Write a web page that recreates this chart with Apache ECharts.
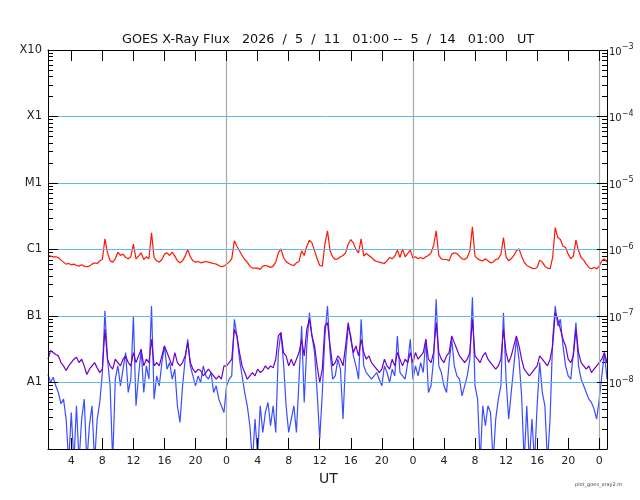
<!DOCTYPE html>
<html>
<head>
<meta charset="utf-8">
<title>GOES X-Ray Flux</title>
<script src="https://cdn.jsdelivr.net/npm/echarts@6/dist/echarts.min.js"></script>
<style>
  html, body { margin: 0; padding: 0; background: #fff; }
  #chart { width: 640px; height: 500px; }
</style>
</head>
<body>
<div id="chart"></div>
<script>
// log10 of flux (W/m^2), one sample every 20 min starting 5/11 01:00 UT
const START_HOUR = 1;      // hours after 5/11 00:00 UT
const STEP_HOURS = 1 / 3;

// red: long channel
const longFlux = [
  -6.09,-6.10,-6.11,-6.11,-6.12,-6.16,-6.19,-6.22,-6.21,-6.23,-6.22,-6.24,
  -6.25,-6.23,-6.25,-6.26,-6.25,-6.22,-6.20,-6.21,-6.17,-6.15,-5.84,-6.05,
  -6.17,-6.19,-6.14,-6.04,-6.09,-6.07,-6.12,-6.14,-6.11,-5.92,-6.14,-6.10,
  -6.05,-6.15,-6.11,-6.14,-5.75,-6.12,-6.17,-6.19,-6.15,-6.07,-6.05,-6.09,
  -6.04,-6.10,-6.17,-6.20,-6.17,-6.10,-6.00,-6.11,-6.17,-6.19,-6.18,-6.20,
  -6.19,-6.18,-6.19,-6.20,-6.21,-6.22,-6.24,-6.26,-6.25,-6.22,-6.19,-6.14,
  -5.87,-5.95,-6.02,-6.09,-6.15,-6.19,-6.25,-6.28,-6.28,-6.28,-6.30,-6.25,
  -6.24,-6.25,-6.27,-6.25,-6.19,-6.05,-5.99,-6.12,-6.18,-6.21,-6.23,-6.24,
  -6.20,-6.18,-6.02,-6.09,-5.95,-5.86,-5.90,-6.02,-6.14,-6.24,-6.25,-5.92,
  -5.72,-6.02,-6.11,-6.15,-6.14,-6.11,-6.09,-6.05,-5.92,-5.85,-5.90,-6.00,
  -6.05,-5.84,-6.10,-6.06,-6.09,-6.12,-6.16,-6.18,-6.19,-6.20,-6.21,-6.17,
  -6.12,-6.14,-6.10,-6.01,-6.12,-5.99,-6.11,-6.06,-6.01,-6.13,-6.11,-6.14,
  -6.12,-6.14,-6.11,-6.09,-6.05,-5.94,-5.72,-6.09,-6.14,-6.15,-6.15,-6.17,
  -6.07,-6.05,-6.06,-6.10,-6.14,-6.15,-6.12,-6.02,-5.66,-6.10,-6.14,-6.16,
  -6.17,-6.14,-6.17,-6.20,-6.19,-6.15,-6.14,-6.07,-5.82,-6.11,-6.17,-6.14,
  -6.09,-6.02,-5.99,-6.10,-6.19,-6.24,-6.26,-6.28,-6.29,-6.27,-6.16,-6.19,
  -6.25,-6.28,-6.29,-6.12,-5.67,-5.82,-5.85,-5.95,-5.97,-6.07,-6.14,-6.10,
  -5.86,-6.02,-6.12,-6.16,-6.22,-6.27,-6.29,-6.27,-6.29,-6.25,-6.17,-6.14,
  -6.19
];

// blue: short channel
const shortFlux = [
  -7.88,-8.00,-7.92,-8.05,-8.15,-8.32,-8.25,-8.55,-9.20,-8.45,-9.20,-8.35,
  -9.20,-8.55,-8.25,-9.20,-8.65,-8.35,-9.20,-8.55,-8.30,-7.85,-6.92,-7.65,
  -8.05,-9.20,-7.95,-7.75,-8.05,-7.80,-7.55,-8.15,-7.95,-7.00,-8.35,-7.90,
  -7.50,-8.15,-7.75,-7.95,-6.85,-8.25,-7.90,-8.05,-7.70,-7.45,-7.80,-7.70,
  -7.95,-7.80,-8.35,-8.60,-8.05,-7.65,-7.35,-7.75,-7.90,-8.05,-7.90,-8.00,
  -7.75,-7.90,-7.95,-7.85,-8.15,-8.05,-8.25,-8.35,-8.45,-8.05,-7.95,-7.90,
  -7.05,-7.30,-7.65,-7.90,-8.15,-8.35,-8.65,-9.20,-8.55,-9.10,-8.35,-8.75,
  -8.45,-8.30,-8.65,-8.35,-8.75,-7.55,-7.25,-7.70,-8.35,-8.75,-8.55,-8.35,
  -8.75,-7.95,-7.15,-8.30,-7.45,-6.95,-7.30,-7.55,-8.15,-8.85,-8.15,-7.30,
  -6.85,-7.55,-7.95,-7.90,-7.65,-7.80,-8.55,-7.65,-7.15,-7.30,-7.60,-7.75,
  -7.95,-7.05,-7.75,-7.85,-7.90,-7.95,-7.90,-7.85,-7.95,-8.05,-7.75,-7.85,
  -8.00,-7.80,-7.90,-7.30,-7.85,-7.90,-7.95,-7.70,-7.35,-7.95,-7.75,-7.90,
  -7.70,-7.85,-7.35,-8.15,-8.05,-7.65,-6.75,-7.75,-7.85,-8.05,-8.15,-7.70,
  -7.35,-7.75,-7.90,-7.95,-8.20,-8.05,-7.90,-7.65,-6.72,-8.05,-8.25,-9.20,
  -8.35,-8.65,-8.35,-8.45,-9.20,-8.55,-8.25,-8.05,-6.95,-7.95,-8.55,-8.15,
  -7.75,-7.35,-7.65,-8.20,-9.20,-8.35,-9.20,-8.55,-9.20,-8.35,-7.70,-8.15,
  -8.35,-9.20,-8.55,-7.35,-6.85,-7.15,-7.05,-7.45,-7.75,-7.90,-7.95,-7.55,
  -7.10,-7.75,-7.95,-8.05,-8.15,-8.25,-8.30,-8.40,-8.55,-8.25,-7.90,-7.55,
  -7.95
];

// purple: short channel, second satellite
const shortFlux2 = [
  -7.65,-7.52,-7.55,-7.58,-7.60,-7.70,-7.75,-7.82,-7.75,-7.70,-7.65,-7.62,
  -7.70,-7.65,-7.75,-7.88,-7.80,-7.75,-7.70,-7.78,-7.85,-7.80,-7.20,-7.65,
  -7.75,-7.80,-7.65,-7.70,-7.75,-7.65,-7.60,-7.70,-7.75,-7.55,-7.70,-7.60,
  -7.50,-7.75,-7.65,-7.70,-7.35,-7.75,-7.70,-7.75,-7.60,-7.45,-7.55,-7.65,
  -7.75,-7.55,-7.70,-7.75,-7.70,-7.60,-7.40,-7.70,-7.80,-7.85,-7.80,-7.82,
  -7.90,-7.85,-7.80,-7.85,-7.90,-7.95,-7.90,-7.95,-7.75,-7.75,-7.70,-7.65,
  -7.20,-7.30,-7.55,-7.75,-7.85,-7.95,-7.90,-7.85,-7.90,-7.80,-7.85,-7.82,
  -7.75,-7.80,-7.75,-7.78,-7.65,-7.30,-7.25,-7.55,-7.60,-7.75,-7.65,-7.75,
  -7.65,-7.55,-7.35,-7.60,-7.20,-7.05,-7.30,-7.45,-7.75,-8.00,-7.80,-7.15,
  -7.10,-7.45,-7.75,-7.70,-7.60,-7.65,-7.75,-7.45,-7.10,-7.35,-7.55,-7.45,
  -7.60,-7.35,-7.55,-7.65,-7.60,-7.70,-7.75,-7.80,-7.85,-7.80,-7.65,-7.75,
  -7.80,-7.65,-7.75,-7.55,-7.65,-7.75,-7.65,-7.70,-7.55,-7.70,-7.55,-7.65,
  -7.60,-7.55,-7.35,-7.65,-7.70,-7.55,-7.10,-7.55,-7.65,-7.70,-7.60,-7.55,
  -7.30,-7.40,-7.50,-7.60,-7.65,-7.70,-7.65,-7.55,-7.05,-7.60,-7.65,-7.70,
  -7.60,-7.55,-7.65,-7.70,-7.75,-7.80,-7.75,-7.65,-7.20,-7.55,-7.70,-7.60,
  -7.45,-7.30,-7.45,-7.65,-7.80,-7.85,-7.90,-7.85,-7.80,-7.75,-7.60,-7.65,
  -7.70,-7.75,-7.65,-7.45,-6.95,-7.05,-7.20,-7.35,-7.45,-7.65,-7.70,-7.60,
  -7.20,-7.55,-7.70,-7.75,-7.80,-7.75,-7.85,-7.80,-7.75,-7.70,-7.65,-7.55,
  -7.70
];

const classLabels = { '-3': 'X10', '-4': 'X1', '-5': 'M1', '-6': 'C1', '-7': 'B1', '-8': 'A1' };
const hourTicks = [4, 8, 12, 16, 20, 24, 28, 32, 36, 40, 44, 48, 52, 56, 60, 64, 68, 72];
const midnights = [24, 48, 72];

const FONT = 'DejaVu Sans';

// minor log ticks at 2..9 inside each decade
const minorTicks = [];
for (let d = -9; d < -3; d++) {
    for (let m = 2; m <= 9; m++) minorTicks.push(d + Math.log10(m));
}

const toPoints = arr => arr.map((v, k) => [START_HOUR + k * STEP_HOURS, v]);

const chart = echarts.init(document.getElementById('chart'));

const frameLine = { show: true, lineStyle: { color: '#000', width: 1 } };

const option = {
    animation: false,
    grid: { left: 48, right: 33, top: 50, bottom: 51 },
    xAxis: [
        {
            type: 'value', min: 1, max: 73, position: 'bottom', z: 5,
            axisLine: frameLine,
            axisTick: { inside: true, length: 11, customValues: hourTicks, lineStyle: { color: '#000' } },
            axisLabel: {
                customValues: hourTicks,
                formatter: v => String(v % 24),
                color: '#222', fontFamily: FONT, fontSize: 11, margin: 7
            },
            splitLine: { show: false }
        },
        {
            type: 'value', min: 1, max: 73, position: 'top', z: 5,
            axisLine: frameLine,
            axisTick: { inside: true, length: 11, customValues: hourTicks, lineStyle: { color: '#000' } },
            axisLabel: { show: false },
            splitLine: { show: false }
        }
    ],
    yAxis: [
        {
            type: 'value', min: -9, max: -3, interval: 1, position: 'left', z: 5,
            axisLine: frameLine,
            axisTick: { inside: true, length: 10, lineStyle: { color: '#000' } },
            axisLabel: {
                formatter: v => classLabels[v] || '',
                color: '#222', fontFamily: FONT, fontSize: 11.5, margin: 6
            },
            splitLine: { show: true, lineStyle: { color: '#62b8ee', width: 1 } }
        },
        {
            type: 'value', min: -9, max: -3, interval: 1, position: 'right', z: 5,
            axisLine: frameLine,
            axisTick: { inside: true, length: 10, lineStyle: { color: '#000' } },
            axisLabel: {
                formatter: v => v === -9 ? '' : '{b|10}{s|\u2212' + (-v) + '}',
                margin: 2,
                rich: {
                    b: { fontFamily: FONT, fontSize: 10, color: '#222', padding: [4, 0, 0, 0] },
                    s: { fontFamily: FONT, fontSize: 8, color: '#222', padding: [0, 0, 6, 0] }
                }
            },
            splitLine: { show: false }
        },
        {
            type: 'value', min: -9, max: -3, position: 'left',
            axisLine: { show: false },
            axisTick: { inside: true, length: 5, customValues: minorTicks, lineStyle: { color: '#000' } },
            axisLabel: { show: false },
            splitLine: { show: false }
        },
        {
            type: 'value', min: -9, max: -3, position: 'right',
            axisLine: { show: false },
            axisTick: { inside: true, length: 5, customValues: minorTicks, lineStyle: { color: '#000' } },
            axisLabel: { show: false },
            splitLine: { show: false }
        }
    ],
    series: [
        {
            name: 'midnight', type: 'line', data: [], z: 1,
            markLine: {
                silent: true, symbol: 'none', label: { show: false },
                lineStyle: { color: '#aaaaaa', width: 1.2, type: 'solid' },
                data: midnights.map(h => ({ xAxis: h }))
            }
        },
        {
            name: 'Long', type: 'line', data: toPoints(longFlux),
            showSymbol: false, z: 2,
            lineStyle: { color: '#ff1500', width: 1.2 }
        },
        {
            name: 'Short', type: 'line', data: toPoints(shortFlux),
            showSymbol: false, z: 2,
            lineStyle: { color: '#3a4dff', width: 1.2 }
        },
        {
            name: 'Short 2', type: 'line', data: toPoints(shortFlux2),
            showSymbol: false, z: 2,
            lineStyle: { color: '#7000c8', width: 1.2 }
        }
    ],
    graphic: [
        {
            type: 'text', left: 122, top: 33,
            style: {
                text: 'GOES X-Ray Flux   2026  /  5  /  11   01:00 --  5  /  14   01:00   UT',
                font: '12.8px "DejaVu Sans"', fill: '#111'
            }
        },
        {
            type: 'text', left: 319, top: 472,
            style: { text: 'UT', font: '14px "DejaVu Sans"', fill: '#222' }
        },
        {
            type: 'text', left: 575, top: 482,
            style: { text: 'plot_goes_xray2.m', font: '5px "DejaVu Sans"', fill: '#444' }
        }
    ]
};

chart.setOption(option);
</script>
</body>
</html>
